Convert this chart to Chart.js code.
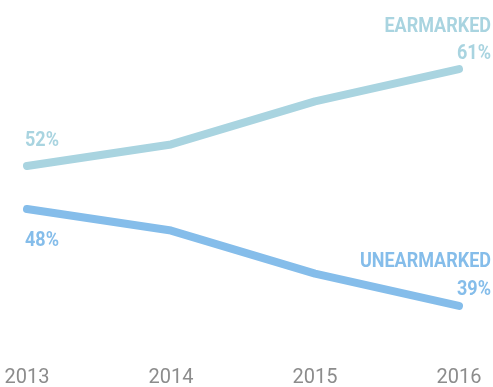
<!DOCTYPE html>
<html>
<head>
<meta charset="utf-8">
<script src="https://cdn.jsdelivr.net/npm/chart.js@4/dist/chart.umd.min.js"></script>
<style>
  html, body { margin: 0; padding: 0; background: #fff; }
  #wrap { width: 493px; height: 387px; }
</style>
</head>
<body>
<div id="wrap"><canvas id="chart" width="493" height="387"></canvas></div>
<script>
// Share of funding, earmarked vs unearmarked (%)
const years = ['2013', '2014', '2015', '2016'];
const earmarked = [52, 54, 58, 61];
const unearmarked = [48, 46, 42, 39];

const earColor = '#a9d4e0';
const unearColor = '#85bdea';

// condensed bold text, drawn squeezed horizontally
function drawLabel(ctx, text, x, y, align, color) {
    const squeeze = 0.9;
    ctx.save();
    ctx.font = 'bold 20px Roboto';
    ctx.fillStyle = color;
    ctx.textAlign = align;
    ctx.textBaseline = 'alphabetic';
    ctx.translate(x, y);
    ctx.scale(squeeze, 1);
    ctx.fillText(text, 0, 0);
    ctx.restore();
}

const endLabels = {
    id: 'endLabels',
    afterDatasetsDraw(chart) {
        const ctx = chart.ctx;
        const last = years.length - 1;
        const ear = chart.getDatasetMeta(0).data;
        const unear = chart.getDatasetMeta(1).data;

        drawLabel(ctx, earmarked[0] + '%', ear[0].x - 2, ear[0].y - 20, 'left', earColor);
        drawLabel(ctx, unearmarked[0] + '%', unear[0].x - 2, unear[0].y + 37, 'left', unearColor);

        const r = chart.width - 2;
        drawLabel(ctx, 'EARMARKED', r, ear[last].y - 37, 'right', earColor);
        drawLabel(ctx, earmarked[last] + '%', r, ear[last].y - 10, 'right', earColor);
        drawLabel(ctx, 'UNEARMARKED', r, unear[last].y - 39, 'right', unearColor);
        drawLabel(ctx, unearmarked[last] + '%', r, unear[last].y - 11, 'right', unearColor);
    }
};

new Chart(document.getElementById('chart'), {
    type: 'line',
    data: {
        labels: years,
        datasets: [
            {
                label: 'Earmarked',
                data: earmarked,
                borderColor: earColor,
                borderWidth: 8,
                borderCapStyle: 'round',
                borderJoinStyle: 'round',
                pointRadius: 0,
                tension: 0
            },
            {
                label: 'Unearmarked',
                data: unearmarked,
                borderColor: unearColor,
                borderWidth: 8,
                borderCapStyle: 'round',
                borderJoinStyle: 'round',
                pointRadius: 0,
                tension: 0
            }
        ]
    },
    options: {
        responsive: false,
        animation: false,
        layout: { padding: { left: 27, right: 34, top: 26, bottom: 0 } },
        plugins: {
            legend: { display: false },
            tooltip: { enabled: false }
        },
        scales: {
            x: {
                offset: false,
                grid: { display: false, drawTicks: false },
                border: { display: false },
                ticks: {
                    color: '#8c8c8c',
                    font: { family: 'Roboto', size: 20 },
                    padding: 17,
                    maxRotation: 0
                },
                // fixed axis band under the plot; side room comes from layout padding
                afterFit(scale) {
                    scale.height = 38;
                    scale.paddingLeft = 0;
                    scale.paddingRight = 0;
                }
            },
            y: {
                display: false,
                min: 35,
                max: 65
            }
        }
    },
    plugins: [endLabels]
});
</script>
</body>
</html>
